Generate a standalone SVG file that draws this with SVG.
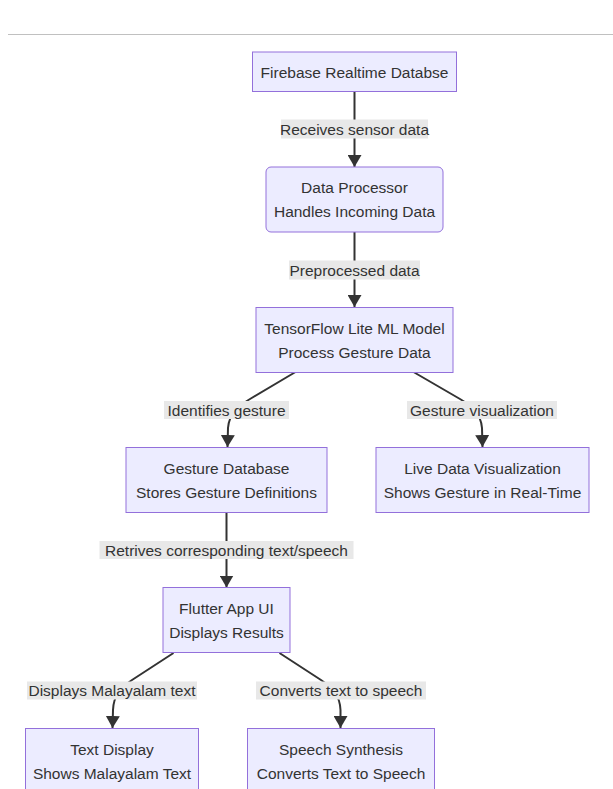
<svg xmlns="http://www.w3.org/2000/svg" width="613" height="789" viewBox="0 0 613 789">
<style>
  .node rect { fill: #ECECFF; stroke: #9370DB; stroke-width: 1; }
  .node text, .lbl text { font-family: "Liberation Sans", Arial, sans-serif; font-size: 15.5px; fill: #333; text-anchor: middle; }
  .edge { fill: none; stroke: #333; stroke-width: 2; }
  .lbl rect { fill: #e8e8e8; }
</style>
<defs>
  <marker id="arrow" viewBox="0 0 10 10" refX="10" refY="5" markerUnits="userSpaceOnUse" markerWidth="12" markerHeight="14" orient="auto" preserveAspectRatio="none">
    <path d="M0,0 L10,5 L0,10 z" fill="#333"/>
  </marker>
</defs>
<rect x="0" y="0" width="613" height="789" fill="#ffffff"/>
<line x1="8" y1="34.5" x2="613" y2="34.5" stroke="#c0c0c0" stroke-width="1.2"/>

<g id="connectors">
  <path class="edge" d="M354.5,91.5 L354.5,167" marker-end="url(#arrow)"/>
  <path class="edge" d="M354.5,232 L354.5,307" marker-end="url(#arrow)"/>
  <path class="edge" d="M295.5,372 L250,399 C238,406 229,414 228,428 L227.5,447" marker-end="url(#arrow)"/>
  <path class="edge" d="M413.5,372 L460,399 C472,406 481,414 482,428 L482.5,447" marker-end="url(#arrow)"/>
  <path class="edge" d="M226.5,512.5 L226.5,587.5" marker-end="url(#arrow)"/>
  <path class="edge" d="M173.5,653 L132,680 C120,688 113.5,696 113,710 L112.5,728" marker-end="url(#arrow)"/>
  <path class="edge" d="M279.5,653 L321,680 C333,688 340,696 340.5,710 L340.5,728" marker-end="url(#arrow)"/>
  <g class="lbl"><rect x="281" y="119.5" width="147" height="19"/><text x="354.5" y="134.5">Receives sensor data</text></g>
  <g class="lbl"><rect x="289" y="260.5" width="131" height="19"/><text x="354.5" y="275.5">Preprocessed data</text></g>
  <g class="lbl"><rect x="164" y="401" width="125" height="18"/><text x="226.5" y="415.5">Identifies gesture</text></g>
  <g class="lbl"><rect x="407" y="401" width="150" height="18"/><text x="482" y="415.5">Gesture visualization</text></g>
  <g class="lbl"><rect x="99.5" y="541" width="254" height="18"/><text x="226.5" y="555.5">Retrives corresponding text/speech</text></g>
  <g class="lbl"><rect x="27" y="681.5" width="170" height="18"/><text x="112" y="696">Displays Malayalam text</text></g>
  <g class="lbl"><rect x="256" y="681.5" width="170" height="18"/><text x="341" y="696">Converts text to speech</text></g>
</g>

<g id="n1" class="node"><rect x="252.5" y="52" width="204" height="39.5"/><text x="354.5" y="77.5">Firebase Realtime Databse</text></g>
<g id="n2" class="node"><rect x="266" y="167" width="177" height="65" rx="5" ry="5"/><text x="354.5" y="193">Data Processor</text><text x="354.5" y="217">Handles Incoming Data</text></g>
<g id="n3" class="node"><rect x="256" y="307.5" width="197" height="65"/><text x="354.5" y="333.5">TensorFlow Lite ML Model</text><text x="354.5" y="357.5">Process Gesture Data</text></g>
<g id="n4" class="node"><rect x="126" y="447.5" width="201" height="65"/><text x="226.5" y="473.5">Gesture Database</text><text x="226.5" y="497.5">Stores Gesture Definitions</text></g>
<g id="n5" class="node"><rect x="376" y="447.5" width="213" height="65"/><text x="482.5" y="473.5">Live Data Visualization</text><text x="482.5" y="497.5">Shows Gesture in Real-Time</text></g>
<g id="n6" class="node"><rect x="163" y="587.5" width="127" height="65"/><text x="226.5" y="613.5">Flutter App UI</text><text x="226.5" y="637.5">Displays Results</text></g>
<g id="n7" class="node"><rect x="25.5" y="728.5" width="173" height="65"/><text x="112" y="754.5">Text Display</text><text x="112" y="778.5">Shows Malayalam Text</text></g>
<g id="n8" class="node"><rect x="247.5" y="728.5" width="187" height="65"/><text x="341" y="754.5">Speech Synthesis</text><text x="341" y="778.5">Converts Text to Speech</text></g>
</svg>
